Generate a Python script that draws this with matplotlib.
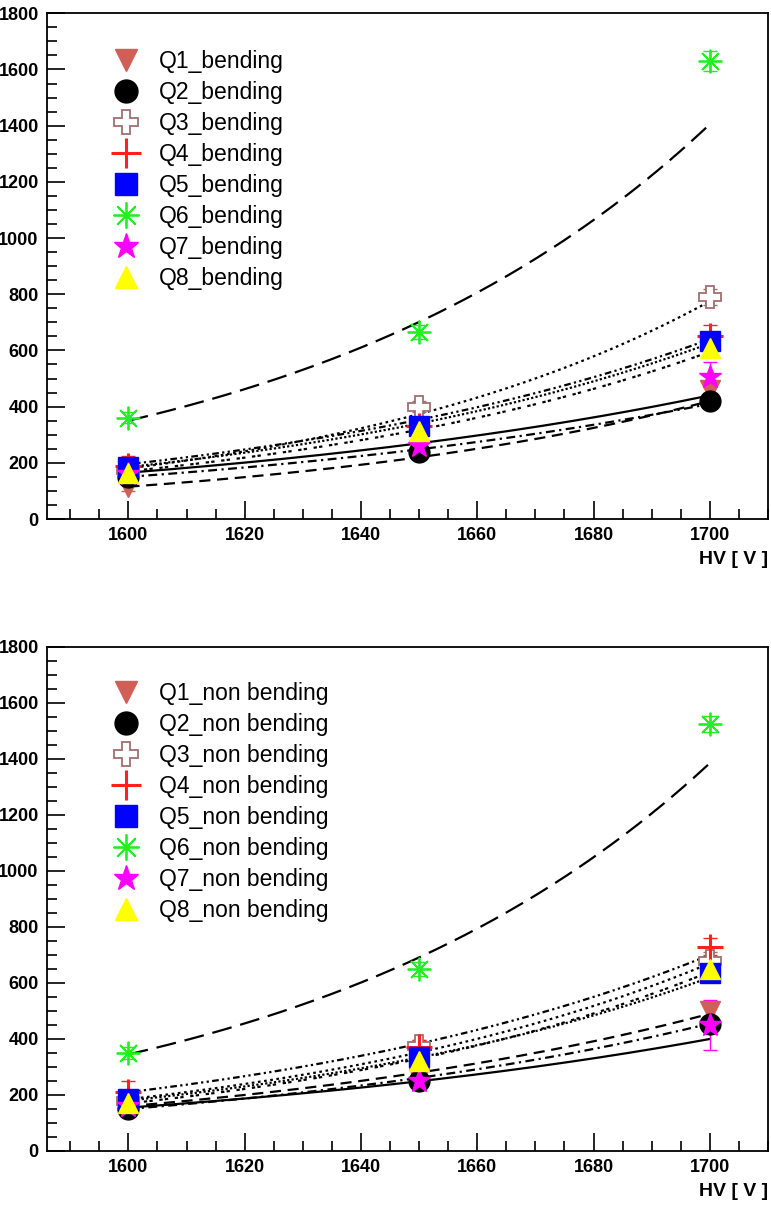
import numpy as np
import matplotlib
matplotlib.use("Agg")
import matplotlib.pyplot as plt
from matplotlib.ticker import MultipleLocator

plt.rcParams['font.family'] = ['Liberation Sans', 'DejaVu Sans']

hv = [1600, 1650, 1700]
names = ["Q1", "Q2", "Q3", "Q4", "Q5", "Q6", "Q7", "Q8"]

# bending side
q1_b = [115, 245, 460]
q2_b = [150, 240, 420]
q3_b = [175, 400, 790]
q4_b = [190, 330, 650]
q5_b = [185, 330, 635]
q6_b = [360, 665, 1630]
q7_b = [160, 260, 505]
q8_b = [165, 315, 610]
err_b = [[15, 12, 25], [10, 12, 20], [15, 20, 30], [35, 20, 40], [12, 15, 25],
         [20, 25, 35], [15, 15, 55], [12, 15, 25]]
fit_lo_b = [115, 150, 180, 195, 185, 350, 165, 170]
fit_hi_b = [420, 410, 775, 640, 625, 1405, 440, 595]

# non bending side
q1_nb = [160, 260, 500]
q2_nb = [150, 250, 455]
q3_nb = [180, 375, 680]
q4_nb = [210, 370, 730]
q5_nb = [185, 335, 635]
q6_nb = [350, 650, 1525]
q7_nb = [160, 250, 450]
q8_nb = [170, 320, 650]
err_nb = [[15, 12, 25], [10, 12, 20], [15, 20, 30], [40, 25, 30], [12, 15, 25],
          [20, 25, 30], [15, 15, 90], [12, 15, 25]]
fit_lo_nb = [160, 150, 185, 210, 180, 345, 155, 170]
fit_hi_nb = [490, 455, 670, 700, 620, 1385, 400, 640]

markers = ['v', 'o', 'P', '+', 's', (8, 2, 0), '*', '^']
colors = ['#d05f58', 'black', 'white', '#ff2020', '#0000ff', '#22ee22', '#ff00ff', '#ffff00']
edges = ['#d05f58', 'black', '#a07070', '#ff2020', '#0000ff', '#22ee22', '#ff00ff', '#ffff00']
msizes = [15, 15, 16, 19, 15, 17, 17, 15]
fit_styles = [(0, (5, 3)), (0, (4, 2, 1, 2)), (0, (1.2, 1.6)), (0, (3, 1.5, 1, 1.5, 1, 1.5)),
              (0, (1, 1)), (0, (9, 4)), '-', (0, (1.5, 1, 1.5, 3))]

fig = plt.figure(figsize=(7.71, 12.07), dpi=100)
ax1 = fig.add_axes([0.061, 0.570, 0.935, 0.419])
ax2 = fig.add_axes([0.061, 0.0464, 0.935, 0.4176])


def draw(ax, series, errs, lo, hi, suffix, legy):
    xf = np.linspace(1600, 1700, 200)
    for i in range(8):
        f = lo[i] * (hi[i] / lo[i]) ** ((xf - 1600) / 100.0)
        ax.plot(xf, f, color='black', lw=1.6, ls=fit_styles[i], zorder=2)
    for i in range(8):
        ax.errorbar(hv, series[i], yerr=errs[i], fmt='none', ecolor=edges[i],
                    elinewidth=1, capsize=5, zorder=3)
        mew = 2.2 if i == 3 else (1.3 if i in (2, 5) else 1)
        ax.plot(hv, series[i], ls='none', marker=markers[i], ms=msizes[i],
                mfc=colors[i], mec=edges[i], mew=mew, zorder=4,
                label=names[i] + suffix)
    ax.set_xlim(1586, 1710)
    ax.set_ylim(0, 1800)
    ax.xaxis.set_major_locator(MultipleLocator(20))
    ax.xaxis.set_minor_locator(MultipleLocator(5))
    ax.yaxis.set_major_locator(MultipleLocator(200))
    ax.yaxis.set_minor_locator(MultipleLocator(50))
    ax.tick_params(which='both', direction='in', top=False, right=False, width=1.2)
    ax.tick_params(which='major', length=13, labelsize=13, pad=6)
    ax.tick_params(which='minor', length=7)
    for lab in ax.get_xticklabels() + ax.get_yticklabels():
        lab.set_fontweight('bold')
    for sp in ax.spines.values():
        sp.set_linewidth(1.3)
    ax.set_xlabel("HV [ V ]", fontsize=14, fontweight='bold', loc='right', labelpad=5)
    ax.legend(loc='upper left', bbox_to_anchor=(0.093, legy), frameon=False,
              fontsize=16.5, handlelength=1.0, handletextpad=0.95, labelspacing=0.35,
              borderpad=0, borderaxespad=0, markerscale=1.1)


draw(ax1, [q1_b, q2_b, q3_b, q4_b, q5_b, q6_b, q7_b, q8_b], err_b, fit_lo_b, fit_hi_b,
     "_bending", 0.928)
draw(ax2, [q1_nb, q2_nb, q3_nb, q4_nb, q5_nb, q6_nb, q7_nb, q8_nb], err_nb, fit_lo_nb, fit_hi_nb,
     "_non bending", 0.931)

fig.savefig("out.png", dpi=100)
